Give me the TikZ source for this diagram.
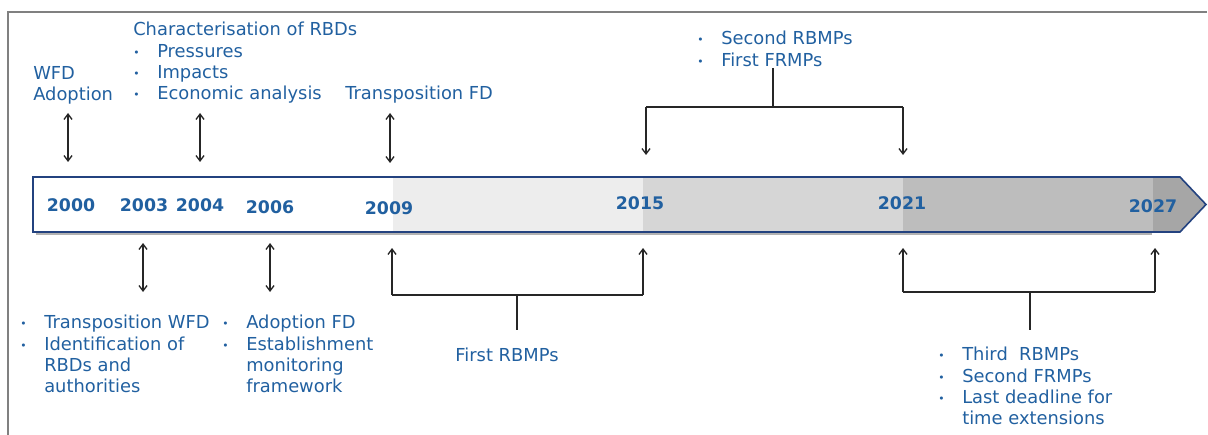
\documentclass[tikz,border=0pt]{standalone}
\usepackage{fontspec}
\setmainfont{DejaVu Sans}
\usepackage{tikz}
\usetikzlibrary{calc,arrows.meta}
\definecolor{txtblue}{HTML}{2160A0}
\definecolor{barblue}{HTML}{23427F}
\newcommand{\itm}{\makebox[18pt][l]{\raisebox{.1ex}{\footnotesize\textbullet}}}
\newcommand{\ind}{\hspace*{18pt}}

\begin{document}
\begin{tikzpicture}[x=0.75pt,y=-0.75pt,>={Straight Barb[length=4pt,width=6pt]},
	label/.style={text=txtblue,font=\fontsize{13.4}{16}\selectfont,align=left,inner sep=0pt,anchor=north west},
	year/.style={text=txtblue,font=\fontsize{13}{16}\selectfont\bfseries,inner sep=0pt},
	conn/.style={line width=1pt,draw=black!85}]
\useasboundingbox (0,0) rectangle (1208,435);

% draw the frame
\draw[black!50,line width=1.5pt] (1207,12) -- (8,12) -- (8,435);

% draw the time bar with its shaded periods
\fill[black!30] (36,232) rectangle (1152,235);
\begin{scope}
	\clip (33,177) -- (1180,177) -- (1206,204.5) -- (1180,232) -- (33,232) -- cycle;
	\foreach \a/\b/\shade in {33/393/0, 393/643/7, 643/903/16, 903/1153/26, 1153/1210/35}
		\fill[black!\shade] (\a,170) rectangle (\b,240);
\end{scope}
\draw[barblue,line width=1.2pt] (33,177) -- (1180,177) -- (1206,204.5) -- (1180,232) -- (33,232) -- cycle;

% draw each year on the bar
\foreach \x/\y/\yr in {
	71/205/2000,
	144/205/2003,
	200/205/2004,
	270/207/2006,
	389/208/2009,
	640/203/2015,
	902/203/2021,
	1153/206/2027}
	\node[year] (y\yr) at (\x,\y) {\yr};

% the texts above the bar
\node[label] (wfd) at (33,66) {WFD\\Adoption};
\node[label] (charrbd) at (133,22) {Characterisation of RBDs\\\itm Pressures\\\itm Impacts\\\itm Economic analysis};
\node[label] (transfd) at (345,86) {Transposition FD};
\node[label] (secrbmp) at (697,31) {\itm Second RBMPs\\\itm First FRMPs};

% the texts below the bar
\node[label] (transwfd) at (20,315) {\itm Transposition WFD\\\itm Identification of\\\ind RBDs and\\\ind authorities};
\node[label] (adoptfd) at (222,315) {\itm Adoption FD\\\itm Establishment\\\ind monitoring\\\ind framework};
\node[label,anchor=center] (firstrbmp) at (507,355) {First RBMPs};
\node[label] (thirdrbmp) at (938,347) {\itm Third\ \ RBMPs\\\itm Second FRMPs\\\itm Last deadline for\\\ind time extensions};

% double arrows between texts and bar
\foreach \x/\a/\b [count=\i] in {68/113/162, 200/113/162, 390/113/163, 143/243/292, 270/243/292} {
	\coordinate (p\i) at (\x,\a);
	\coordinate (q\i) at (\x,\b);
	\draw[conn,<->] (p\i) -- (q\i);
}

% bracket above the bar
\coordinate (tstem) at (773,68);
\coordinate (tl) at (646,107);
\coordinate (tr) at (903,107);
\draw[conn] (tstem) -- (tstem |- tl);
\draw[conn,->] (tl) -- (tl |- 0,155);
\draw[conn,->] (tr) -- (tr |- 0,155);
\draw[conn] (tl) -- (tr);

% brackets below the bar
\foreach \l/\r/\m/\h [count=\i] in {392/643/517/295, 903/1155/1030/292} {
	\coordinate (bl\i) at (\l,\h);
	\coordinate (br\i) at (\r,\h);
	\coordinate (bm\i) at (\m,\h);
	\draw[conn,->] (bl\i) -- (bl\i |- 0,248);
	\draw[conn,->] (br\i) -- (br\i |- 0,248);
	\draw[conn] (bl\i) -- (br\i);
	\draw[conn] (bm\i) -- (bm\i |- 0,330);
}
\end{tikzpicture}
\end{document}
